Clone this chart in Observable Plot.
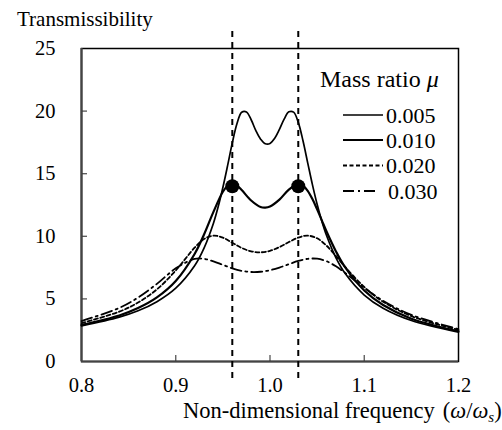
<!DOCTYPE html>
<html><head><meta charset="utf-8">
<script src="https://cdn.jsdelivr.net/npm/d3@7"></script>
<script src="https://cdn.jsdelivr.net/npm/@observablehq/plot@0.6"></script>
<style>body{margin:0;background:#fff;} #chart{width:502px;height:430px;}
#chart svg, #chart svg text { font-family: "Liberation Serif", "DejaVu Serif", "Times New Roman", serif !important; }</style>
</head><body><div id="chart"></div>
<script>
// Mass ratios (legend labels)
const massRatios = ["0.005", "0.010", "0.020", "0.030"];

// mu = 0.005
const freq005 = [0.80,0.84,0.86,0.88,0.90,0.92,0.93,0.94,0.945,0.95,0.955,0.96,0.965,0.97,0.975,0.98,0.985,0.99,0.995,1.00,1.005,1.01,1.015,1.02,1.025,1.03,1.035,1.04,1.045,1.05,1.055,1.06,1.07,1.08,1.10,1.12,1.15,1.20];
const trans005 = [2.85,3.54,4.05,4.78,5.86,7.65,9.06,11.05,12.36,13.90,15.64,17.46,19.01,19.91,19.93,19.31,18.44,17.76,17.39,17.41,17.83,18.54,19.36,19.94,19.92,19.10,17.63,15.87,14.13,12.56,11.20,10.06,8.28,7.00,5.31,4.26,3.28,2.35];

// mu = 0.010
const freq010 = [0.80,0.84,0.86,0.88,0.90,0.92,0.93,0.94,0.95,0.955,0.96,0.965,0.97,0.98,0.99,0.995,1.00,1.01,1.02,1.03,1.035,1.04,1.045,1.05,1.055,1.06,1.07,1.08,1.10,1.12,1.15,1.20];
const trans010 = [2.92,3.68,4.27,5.12,6.43,8.59,10.14,11.95,13.56,14.03,14.18,14.04,13.69,12.86,12.34,12.29,12.38,12.93,13.73,14.18,14.05,13.63,12.97,12.15,11.27,10.38,8.79,7.49,5.67,4.51,3.42,2.42];

// mu = 0.020 and 0.030
const freqWide = [0.80,0.84,0.86,0.88,0.90,0.92,0.93,0.94,0.95,0.96,0.97,0.98,0.99,1.00,1.01,1.02,1.03,1.04,1.05,1.06,1.07,1.08,1.10,1.12,1.15,1.20];
const trans020 = [3.07,3.98,4.71,5.76,7.27,9.09,9.78,10.05,9.89,9.48,9.07,8.80,8.72,8.84,9.14,9.54,9.90,10.05,9.84,9.25,8.42,7.53,5.95,4.78,3.62,2.52];
const trans030 = [3.23,4.28,5.11,6.20,7.44,8.19,8.20,8.00,7.72,7.44,7.24,7.15,7.17,7.29,7.50,7.77,8.03,8.20,8.21,8.01,7.60,7.06,5.88,4.85,3.72,2.59];

// Fixed points (dashed verticals and dots)
const fixedFreq = [0.96, 1.03];
const fixedTrans = [14.0, 14.0];

// Axis ticks
const xTicks = [0.8, 0.9, 1.0, 1.1, 1.2];
const yTicks = [0, 5, 10, 15, 20, 25];

const seriesFreq = [freq005, freq010, freqWide, freqWide];
const seriesTrans = [trans005, trans010, trans020, trans030];
const seriesStyle = [
  {w: 1.7, dash: null},
  {w: 2.2, dash: null},
  {w: 1.8, dash: "4,2.5"},
  {w: 1.8, dash: "11,4,2,4"}
];

const W = 502, H = 430, mL = 81, mR = 44, mT = 48, mB = 69;
const plotW = W - mL - mR, plotH = H - mT - mB;
const FONT = "'Liberation Serif', 'DejaVu Serif', serif";

const lineMarks = massRatios.map((mu, k) => {
  const rows = seriesFreq[k].map((f, i) => ({f, t: seriesTrans[k][i]}));
  return Plot.line(rows, {x: "f", y: "t", curve: "catmull-rom", stroke: "black",
    strokeWidth: seriesStyle[k].w, strokeDasharray: seriesStyle[k].dash || undefined});
});

const fixedRows = fixedFreq.map((f, i) => ({f, t: fixedTrans[i]}));

const chart = Plot.plot({
  width: W, height: H,
  marginLeft: mL, marginRight: mR, marginTop: mT, marginBottom: mB,
  style: {fontFamily: FONT, fontSize: "20.5px", color: "black", background: "white"},
  x: {domain: [0.8, 1.2]},
  y: {domain: [0, 25]},
  marks: [
    Plot.axisX(xTicks, {tickSize: 0, tickPadding: 16, tickFormat: d3.format(".1f"), label: null, fill: "black"}),
    Plot.axisY(yTicks, {tickSize: 0, tickPadding: 26, label: null, fill: "black"}),
    Plot.tickX(xTicks.slice(1, -1), {x: d => d, insetTop: plotH - 6, stroke: "#555", strokeWidth: 1.3}),
    Plot.tickY(yTicks.slice(1, -1), {y: d => d, insetRight: plotW - 6, stroke: "#555", strokeWidth: 1.3}),
    Plot.frame({stroke: "black", strokeWidth: 1.5}),
    Plot.ruleX([0.8], {stroke: "#444", strokeWidth: 2.2}),
    Plot.ruleY([0], {stroke: "#444", strokeWidth: 2.2}),
    ...lineMarks,
    Plot.ruleX(fixedFreq, {x: d => d, y1: -1.35, y2: 26.4, stroke: "black", strokeWidth: 2, strokeDasharray: "6,5"}),
    Plot.dot(fixedRows, {x: "f", y: "t", r: 7, fill: "black", stroke: "none"})
  ]
});

document.getElementById("chart").appendChild(chart);
const svg = d3.select(chart);

// Y title
svg.append("text").attr("x", 17).attr("y", 26).attr("text-anchor", "start")
  .style("font-size", "21px").attr("fill", "black")
  .text("Transmissibility");

// X title
const xt = svg.append("text").attr("x", 183).attr("y", 418).attr("text-anchor", "start")
  .style("font-size", "22.5px").attr("fill", "black");
xt.append("tspan").text("Non-dimensional frequency");
xt.append("tspan").attr("dx", 8).text("(");
xt.append("tspan").style("font-style", "italic").text("ω");
xt.append("tspan").text("/");
xt.append("tspan").style("font-style", "italic").text("ω");
xt.append("tspan").attr("dy", 4).style("font-size", "15px").style("font-style", "italic").text("s");
xt.append("tspan").attr("dy", -4).text(")");

// Legend
const lg = svg.append("g").attr("fill", "black").attr("text-anchor", "start");
const lt = lg.append("text").attr("x", 320).attr("y", 87).style("font-size", "24px");
lt.append("tspan").text("Mass ratio ");
lt.append("tspan").style("font-style", "italic").text("μ");
const legY = [115, 140, 165.5, 191];
massRatios.forEach((mu, k) => {
  const x2 = k === 3 ? 377 : 383;
  lg.append("line").attr("x1", 343).attr("x2", x2).attr("y1", legY[k]).attr("y2", legY[k])
    .attr("stroke", "black").attr("stroke-width", seriesStyle[k].w)
    .attr("stroke-dasharray", seriesStyle[k].dash);
  lg.append("text").attr("x", k === 3 ? 388 : 386).attr("y", legY[k] + 7.5)
    .style("font-size", "22px").text(mu);
});
</script>
</body></html>
